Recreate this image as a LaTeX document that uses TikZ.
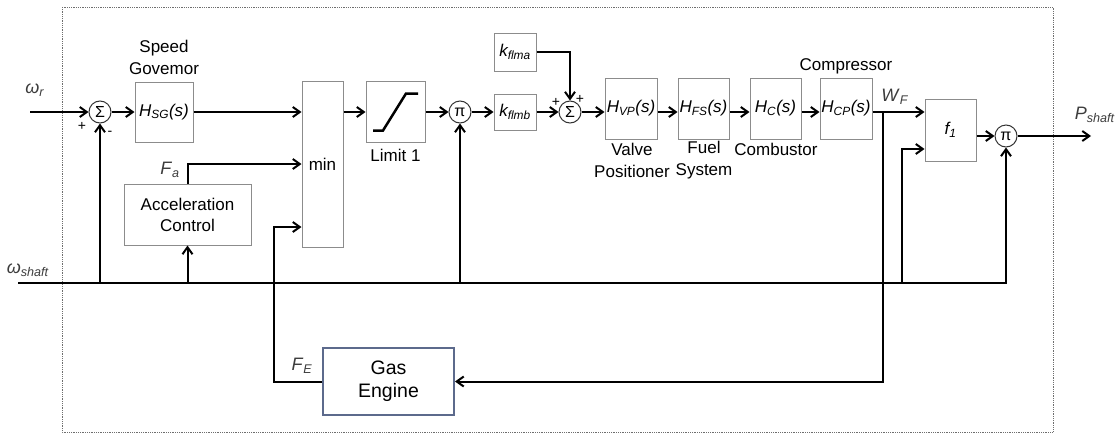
\documentclass[tikz,border=0pt]{standalone}
\usepackage{fontspec}
\setmainfont{Liberation Sans}
\usetikzlibrary{arrows.meta}

\definecolor{boxgray}{RGB}{140,140,140}
\definecolor{framegray}{RGB}{110,110,110}
\definecolor{geblue}{RGB}{92,106,140}
\definecolor{lblgray}{RGB}{60,60,60}

\newcommand{\tfH}[1]{\textit{H\textsubscript{#1}(s)}}
\newcommand{\sig}[2]{\textit{#1\textsubscript{#2}}}

\tikzset{
  blk/.style={draw=boxgray,line width=1pt,fill=white,inner sep=0pt,font=\fontsize{17}{21}\selectfont,align=center},
  sumc/.style={draw=black!80,line width=1pt,circle,minimum size=22pt,inner sep=0pt,font=\fontsize{16}{16}\selectfont},
  lbl/.style={font=\fontsize{17}{22}\selectfont,align=center,inner sep=0pt},
  sgl/.style={font=\fontsize{18}{20}\selectfont,text=lblgray,inner sep=0pt},
  sgn/.style={font=\fontsize{14}{14}\selectfont,inner sep=0pt},
  wire/.style={line width=2pt},
  arr/.style={wire,-{Straight Barb[length=7pt,width=10pt,line width=2pt]}}
}

\begin{document}
\begin{tikzpicture}[x=1pt,y=1pt,yscale=-1,xscale=1]
\useasboundingbox (0,0) rectangle (1116,434);

%Shape: Frame
\draw [framegray,densely dotted,line width=0.8pt] (62,7) rectangle (1053,432);

%Shape: Blocks
\node [sumc] (sumA) at (100,112) {Σ};
\node [blk,minimum width=58pt,minimum height=60pt] (hsg) at (164,112) {\tfH{SG}};
\node [blk,minimum width=41pt,minimum height=166pt] (minb) at (322.5,164) {min};
\node [blk,minimum width=127pt,minimum height=61pt] (acc) at (187.5,214.5) {Acceleration\\Control};
\node [blk,minimum width=59pt,minimum height=61pt] (lim) at (395.5,112) {};
\node [sumc] (piA) at (460,112) {π};
\node [blk,minimum width=42pt,minimum height=36pt] (kb) at (515,112) {\sig{k}{flmb}};
\node [blk,minimum width=42pt,minimum height=38pt] (ka) at (515,52) {\sig{k}{flma}};
\node [sumc] (sumB) at (570,112) {Σ};
\node [blk,minimum width=52pt,minimum height=61pt] (hvp) at (631,108.5) {\tfH{VP}};
\node [blk,minimum width=51pt,minimum height=61pt] (hfs) at (703.5,108.5) {\tfH{FS}};
\node [blk,minimum width=51pt,minimum height=61pt] (hc) at (775.5,108.5) {\tfH{C}};
\node [blk,minimum width=52pt,minimum height=61pt] (hcp) at (846,108.5) {\tfH{CP}};
\node [blk,minimum width=51pt,minimum height=62pt] (f1) at (950.5,130) {\sig{f}{1}};
\node [sumc] (piB) at (1006,136) {π};
\node [blk,draw=geblue,line width=2pt,minimum width=131pt,minimum height=67pt,font=\fontsize{19.5}{23}\selectfont] (ge) at (388.5,381.5) {Gas\\Engine};

%Shape: Limit curve
\draw [line width=2.5pt] ([shift={(-22.5,18.5)}]lim.center) -- ([shift={(-12.5,18.5)}]lim.center) -- ([shift={(10.5,-18.5)}]lim.center) -- ([shift={(22.5,-18.5)}]lim.center);

%Coordinates
\coordinate (wr) at (30,112);
\coordinate (ws) at (18,283);
\coordinate (feup) at (274,227);
\coordinate (wfj) at (883,112);
\coordinate (f1tap) at (902,283);
\coordinate (pout) at (1091,136);

%Straight Lines
\draw [arr] (wr) -- (sumA);
\draw [arr] (sumA) -- (hsg);
\draw [arr] (hsg.east) -- (hsg.east -| minb.west);
\draw [arr] (acc.north) |- (minb.west);
\draw [arr] (ge.west) -| (feup) -- (feup -| minb.west);
\draw [arr] (minb.east |- lim) -- (lim);
\draw [arr] (lim) -- (piA);
\draw [arr] (piA) -- (kb);
\draw [arr] (kb) -- (sumB);
\draw [arr] (ka) -| (sumB);
\draw [arr] (sumB) -- (sumB -| hvp.west);
\draw [arr] (hvp.east |- sumB) -- (hfs.west |- sumB);
\draw [arr] (hfs.east |- sumB) -- (hc.west |- sumB);
\draw [arr] (hc.east |- sumB) -- (hcp.west |- sumB);
\draw [arr] (hcp.east |- sumB) -- (f1.west |- sumB);
\draw [arr] (wfj) |- (ge.east);
\draw [arr] (ws) -| (piB);
\draw [arr] (sumA |- ws) -- (sumA);
\draw [arr] (acc |- ws) -- (acc);
\draw [arr] (piA |- ws) -- (piA);
\draw [arr] (f1tap) |- ([shift={(0,19)}]f1.west);
\draw [arr] (f1.east |- piB) -- (piB);
\draw [arr] (piB) -- (pout);

% Text Node
\node [sgl] (lwr) at (35,90) {\textit{ω}\textsubscript{\textit{r}}};
\node [sgl] (lws) at (28,270) {\textit{ω}\textsubscript{\textit{shaft}}};
\node [sgl] (lfa) at (170,170) {\textit{F}\textsubscript{\textit{a}}};
\node [sgl] (lfe) at (302,366) {\textit{F}\textsubscript{\textit{E}}};
\node [sgl] (lwf) at (895,97) {\textit{W}\textsubscript{\textit{F}}};
\node [sgl] (lps) at (1095,115) {\textit{P}\textsubscript{\textit{shaft}}};
\node [sgn] (pA) at (82,126) {+};
\node [sgn] (mA) at (110,133) {-};
\node [sgn] (pB1) at (556,102) {+};
\node [sgn] (pB2) at (580,99) {+};
% Text Node
\node [lbl] (lsg) at (164,57) {Speed\\Govemor};
\node [lbl] (llim) at (395.5,155) {Limit 1};
\node [lbl] (lvp) at (632,160) {Valve\\Positioner};
\node [lbl] (lfs) at (704,160) {Fuel\\System};
\node [lbl] (lc) at (776,149) {Combustor};
\node [lbl] (lcp) at (846,66) {Compressor};

\end{tikzpicture}
\end{document}
